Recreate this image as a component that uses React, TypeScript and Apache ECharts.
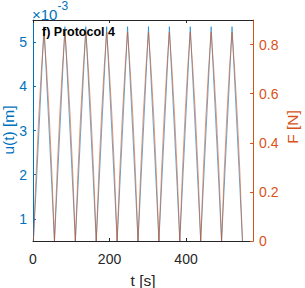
import React, { useEffect, useRef } from "react";
import * as echarts from "echarts";

// time samples [s]
const timeS = [
  1.0, 8.3, 15.2, 22.0, 28.8, 35.6, 42.5, 49.3,
  56.1, 62.9, 69.8, 76.6, 83.4, 90.2, 97.1, 103.9,
  110.7, 117.5, 124.4, 131.2, 138.0, 144.8, 151.7, 158.5,
  165.3, 172.1, 179.0, 185.8, 192.6, 199.4, 206.3, 213.1,
  219.9, 226.7, 233.6, 240.4, 247.2, 254.0, 260.9, 267.7,
  274.5, 281.3, 288.2, 295.0, 301.8, 308.6, 315.5, 322.3,
  329.1, 335.9, 342.8, 349.6, 356.4, 363.2, 370.1, 376.9,
  383.7, 390.5, 397.4, 404.2, 411.0, 417.8, 424.7, 431.5,
  438.3, 445.1, 452.0, 458.8, 465.6, 472.4, 479.3, 486.1,
  492.9, 499.7, 506.6, 513.4, 520.2, 527.0, 533.9, 540.7,
  547.5,
];

// displacement u(t) in units of 1e-3 m
const displacementU = [
  0.5, 1.71, 2.93, 4.14, 5.35, 4.14, 2.93, 1.71,
  0.5, 1.71, 2.93, 4.14, 5.35, 4.14, 2.93, 1.71,
  0.5, 1.71, 2.93, 4.14, 5.35, 4.14, 2.93, 1.71,
  0.5, 1.71, 2.93, 4.14, 5.35, 4.14, 2.93, 1.71,
  0.5, 1.71, 2.93, 4.14, 5.35, 4.14, 2.93, 1.71,
  0.5, 1.71, 2.93, 4.14, 5.35, 4.14, 2.93, 1.71,
  0.5, 1.71, 2.93, 4.14, 5.35, 4.14, 2.93, 1.71,
  0.5, 1.71, 2.93, 4.14, 5.35, 4.14, 2.93, 1.71,
  0.5, 1.71, 2.93, 4.14, 5.35, 4.14, 2.93, 1.71,
  0.5, 1.71, 2.93, 4.14, 5.35, 4.14, 2.93, 1.71,
  0.5,
];

// force F [N]
const forceF = [
  0, 0.28, 0.51, 0.70, 0.85, 0.70, 0.51, 0.28,
  0, 0.28, 0.51, 0.70, 0.85, 0.70, 0.51, 0.28,
  0, 0.28, 0.51, 0.70, 0.85, 0.70, 0.51, 0.28,
  0, 0.28, 0.51, 0.70, 0.85, 0.70, 0.51, 0.28,
  0, 0.28, 0.51, 0.70, 0.85, 0.70, 0.51, 0.28,
  0, 0.28, 0.51, 0.70, 0.85, 0.70, 0.51, 0.28,
  0, 0.28, 0.51, 0.70, 0.85, 0.70, 0.51, 0.28,
  0, 0.28, 0.51, 0.70, 0.85, 0.70, 0.51, 0.28,
  0, 0.28, 0.51, 0.70, 0.85, 0.70, 0.51, 0.28,
  0, 0.28, 0.51, 0.70, 0.85, 0.70, 0.51, 0.28,
  0,
];

const xTicks = [0, 200, 400];
const uTicks = [1, 2, 3, 4, 5];
const fTicks = [0, 0.2, 0.4, 0.6, 0.8];

const BLUE = "#0072BD";
const ORANGE = "#D95319";
const DARK = "#262626";
const FONT = "'Liberation Sans', Arial, Helvetica, sans-serif";

export default function App() {
  const ref = useRef<HTMLDivElement>(null);
  useEffect(() => {
    if (!ref.current) return;
    const chart = echarts.init(ref.current, undefined, { renderer: "svg" });
    const uData = timeS.map((t, i) => [t, displacementU[i]]);
    const fData = timeS.map((t, i) => [t, forceF[i]]);
    const nameText = (text: string, x: number, y: number, color: string, rot: number) => ({
      type: "text",
      x,
      y,
      rotation: rot,
      z: 100,
      style: {
        text,
        x: 0,
        y: 0,
        fill: color,
        fontSize: 15.5,
        fontFamily: FONT,
        align: "center",
        verticalAlign: "middle",
      },
    });
    chart.setOption({
      animation: false,
      textStyle: { fontFamily: FONT },
      grid: { left: 33, right: 52, top: 20, bottom: 47, containLabel: false, outerBoundsMode: "none" },
      xAxis: [
        {
          type: "value",
          min: 0,
          max: 575,
          position: "bottom",
          axisLine: { show: true, onZero: false, lineStyle: { color: DARK, width: 1 } },
          axisTick: { show: true, inside: true, length: 3, customValues: xTicks, lineStyle: { color: DARK } },
          axisLabel: { customValues: xTicks, color: DARK, fontSize: 14, margin: 11, fontFamily: FONT },
          splitLine: { show: false },
        },
        {
          type: "value",
          min: 0,
          max: 575,
          position: "top",
          axisLine: { show: true, onZero: false, lineStyle: { color: DARK, width: 1 } },
          axisTick: { show: true, inside: true, length: 3, customValues: xTicks, lineStyle: { color: DARK } },
          axisLabel: { show: false },
          splitLine: { show: false },
        },
      ],
      yAxis: [
        {
          type: "value",
          min: 0.5,
          max: 5.5,
          position: "left",
          axisLine: { show: true, onZero: false, lineStyle: { color: BLUE, width: 1 } },
          axisTick: { show: true, inside: true, length: 3, customValues: uTicks, lineStyle: { color: BLUE } },
          axisLabel: { customValues: uTicks, color: BLUE, fontSize: 14, margin: 6, fontFamily: FONT },
          splitLine: { show: false },
        },
        {
          type: "value",
          min: 0,
          max: 0.9,
          position: "right",
          axisLine: { show: true, onZero: false, lineStyle: { color: ORANGE, width: 1 } },
          axisTick: { show: true, inside: true, length: 3, customValues: fTicks, lineStyle: { color: ORANGE } },
          axisLabel: {
            customValues: fTicks,
            color: ORANGE,
            fontSize: 14,
            margin: 6,
            fontFamily: FONT,
            formatter: (v: number) => (v === 0 ? "0" : String(Math.round(v * 10) / 10)),
          },
          splitLine: { show: false },
        },
      ],
      graphic: [
        nameText("u(t) [m]", 8.5, 130, BLUE, Math.PI / 2),
        nameText("F [N]", 292.5, 127, ORANGE, Math.PI / 2),
        nameText("t [s]", 143, 280.5, DARK, 0),
        {
          type: "text",
          left: 32,
          top: 0,
          style: {
            text: "{a|×10}{b|-3}",
            rich: {
              a: { fontSize: 15, fill: BLUE, fontFamily: FONT, padding: [7, 0, 0, 0] },
              b: { fontSize: 12, fill: BLUE, fontFamily: FONT, verticalAlign: "top" },
            },
          },
        },
        {
          type: "text",
          left: 42,
          top: 25,
          z: 100,
          style: {
            text: "f) Protocol 4",
            fontSize: 12.5,
            fontWeight: "bold",
            fill: "#000",
            fontFamily: FONT,
          },
        },
      ],
      series: [
        {
          type: "line",
          xAxisIndex: 0,
          yAxisIndex: 0,
          data: uData,
          symbol: "none",
          lineStyle: { color: BLUE, width: 0.6 },
        },
        {
          type: "line",
          xAxisIndex: 0,
          yAxisIndex: 1,
          data: fData,
          symbol: "none",
          lineStyle: { color: ORANGE, width: 0.6 },
        },
      ],
    });
    return () => chart.dispose();
  }, []);
  return (
    <div
      ref={ref}
      style={{ position: "fixed", left: 0, top: 0, width: 305, height: 288, background: "#fff" }}
    />
  );
}
